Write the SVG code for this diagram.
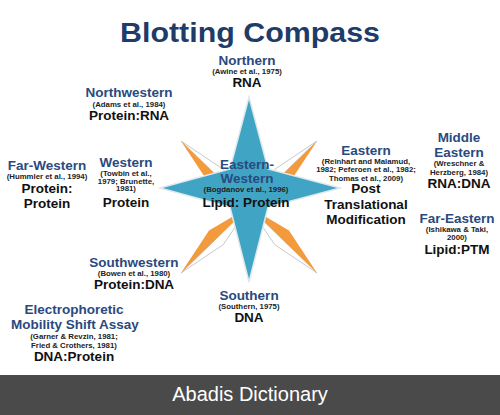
<svg xmlns="http://www.w3.org/2000/svg" width="500" height="415" viewBox="0 0 500 415">
<style>
text { font-family: "Liberation Sans", Arial, sans-serif; font-weight: bold; text-anchor: middle; }
.title { font-size: 28px; fill: #1f3c68; }
.name { font-size: 13.5px; fill: #2a4a7e; }
.ref { font-size: 7.8px; fill: #222; }
.lab { font-size: 13.5px; fill: #111; }
.foot { font-size: 20px; font-weight: normal; fill: #ffffff; }
.org { fill: #f39a3c; }
.wht { fill: #ffffff; stroke: #c9c9c9; stroke-width: 1; }
.star { fill: #40a5c5; stroke: #dfe8ec; stroke-width: 1.5; }
</style>
<rect width="500" height="415" fill="#ffffff"/>
<g id="compass">
  <polygon class="wht" points="181,141 249,207 223.2,169.3"/>
  <polygon class="org" points="181,141 249,207 209,183.5"/>
  <polygon class="wht" points="317,141 249,207 274.8,169.3"/>
  <polygon class="org" points="317,141 249,207 289,183.5"/>
  <polygon class="wht" points="181,273 249,207 223.2,244.7"/>
  <polygon class="org" points="181,273 249,207 209,230.5"/>
  <polygon class="wht" points="317,273 249,207 274.8,244.7"/>
  <polygon class="org" points="317,273 249,207 289,230.5"/>
  <polygon class="star" points="249,97 268,169 340,188 268,207 249,282 230,207 160,188 230,169"/>
</g>
<text class="title" x="250" y="42" textLength="260" lengthAdjust="spacingAndGlyphs">Blotting Compass</text>
<g id="northern">
  <text class="name" x="247" y="65">Northern</text>
  <text class="ref" x="247" y="74">(Awine et al., 1975)</text>
  <text class="lab" x="247" y="87">RNA</text>
</g>
<g id="northwestern">
  <text class="name" x="129" y="97">Northwestern</text>
  <text class="ref" x="129" y="107">(Adams et al., 1984)</text>
  <text class="lab" x="129" y="120">Protein:RNA</text>
</g>
<g id="far-western">
  <text class="name" x="47" y="170">Far-Western</text>
  <text class="ref" x="47" y="179">(Hummler et al., 1994)</text>
  <text class="lab" x="47" y="193">Protein:</text>
  <text class="lab" x="47" y="208">Protein</text>
</g>
<g id="western">
  <text class="name" x="126" y="167">Western</text>
  <text class="ref" x="126" y="176">(Towbin et al.,</text>
  <text class="ref" x="126" y="183.5">1979; Brunette,</text>
  <text class="ref" x="126" y="191">1981)</text>
  <text class="lab" x="126" y="207">Protein</text>
</g>
<g id="eastern-western">
  <text class="name" x="247" y="169">Eastern-</text>
  <text class="name" x="247" y="183">Western</text>
  <text class="ref" x="246" y="192">(Bogdanov et al., 1996)</text>
  <text class="lab" x="246" y="207">Lipid: Protein</text>
</g>
<g id="eastern">
  <text class="name" x="366" y="155">Eastern</text>
  <text class="ref" x="366" y="163.5">(Reinhart and Malamud,</text>
  <text class="ref" x="366" y="172">1982; Peferoen et al., 1982;</text>
  <text class="ref" x="366" y="180.5">Thomas et al., 2009)</text>
  <text class="lab" x="366" y="193">Post</text>
  <text class="lab" x="366" y="209">Translational</text>
  <text class="lab" x="366" y="224">Modification</text>
</g>
<g id="middle-eastern">
  <text class="name" x="459" y="142">Middle</text>
  <text class="name" x="459" y="157">Eastern</text>
  <text class="ref" x="459" y="166">(Wreschner &amp;</text>
  <text class="ref" x="459" y="174.5">Herzberg, 1984)</text>
  <text class="lab" x="459" y="188">RNA:DNA</text>
</g>
<g id="far-eastern">
  <text class="name" x="457" y="223">Far-Eastern</text>
  <text class="ref" x="457" y="232">(Ishikawa &amp; Taki,</text>
  <text class="ref" x="457" y="240">2000)</text>
  <text class="lab" x="457" y="254">Lipid:PTM</text>
</g>
<g id="southwestern">
  <text class="name" x="134" y="267">Southwestern</text>
  <text class="ref" x="134" y="276">(Bowen et al., 1980)</text>
  <text class="lab" x="134" y="289">Protein:DNA</text>
</g>
<g id="emsa">
  <text class="name" x="74" y="314">Electrophoretic</text>
  <text class="name" x="75" y="329">Mobility Shift Assay</text>
  <text class="ref" x="74" y="339">(Garner &amp; Revzin, 1981;</text>
  <text class="ref" x="74" y="348">Fried &amp; Crothers, 1981)</text>
  <text class="lab" x="74" y="361">DNA:Protein</text>
</g>
<g id="southern">
  <text class="name" x="249" y="300">Southern</text>
  <text class="ref" x="249" y="309">(Southern, 1975)</text>
  <text class="lab" x="249" y="322">DNA</text>
</g>
<g id="footer">
  <rect x="0" y="375" width="500" height="40" fill="#4b4a4b"/>
  <text class="foot" x="250" y="401">Abadis Dictionary</text>
</g>
</svg>
